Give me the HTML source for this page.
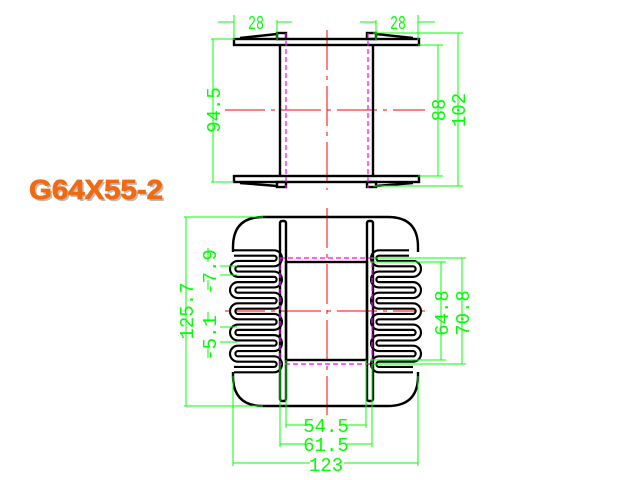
<!DOCTYPE html>
<html><head><meta charset="utf-8"><style>
html,body{margin:0;padding:0;background:#fff;width:640px;height:480px;overflow:hidden}
svg{display:block}
.g{stroke:#00ff00;stroke-width:1;fill:none}
.b{stroke:#000;stroke-width:2.4;fill:none}
.r{stroke:#ff0000;stroke-width:1;fill:none}
.m{stroke:#ff00ff;stroke-width:1.2;fill:none;stroke-dasharray:5 3}
text.d{fill:#00ff00;font-family:"Liberation Mono",monospace;font-size:19px}
</style></head><body>
<svg width="640" height="480" viewBox="0 0 640 480">
<!-- TOP VIEW -->
<path class="r" d="M327 30 V190 M225 110 H425" stroke-dasharray="40 6 4 6"/>
<rect class="b" x="234" y="39" width="185" height="6"/>
<rect class="b" x="234" y="176" width="185" height="6"/>
<line class="b" x1="280" y1="45" x2="280" y2="176"/>
<line class="b" x1="373" y1="45" x2="373" y2="176"/>
<rect class="b" x="277" y="33" width="9" height="6"/>
<rect class="b" x="367" y="33" width="9" height="6"/>
<rect class="b" x="277" y="182" width="9" height="5"/>
<rect class="b" x="367" y="182" width="9" height="5"/>
<path class="b" d="M240 38 L277 34 M376 34 L413 38 M240 183 L277 186 M376 186 L413 183" stroke-width="1.8"/>
<path class="m" d="M286 33 V188 M368 33 V188"/>
<!-- top dims -->
<path class="g" d="M234 15 V40 M277 20 V40 M218 22 H234 M277 22 H292 M376 20 V40 M418 15 V40 M360 22 H376 M418 22 H435"/>
<text class="d" x="248" y="29" textLength="16" lengthAdjust="spacingAndGlyphs">28</text>
<text class="d" x="390" y="29" textLength="16" lengthAdjust="spacingAndGlyphs">28</text>
<path class="g" d="M211 39 H234 M211 182 H234 M213 39 V182"/>
<text class="d" transform="translate(220,110) rotate(-90)" text-anchor="middle">94.5</text>
<path class="g" d="M418 45 H443 M418 176 H443 M438 45 V176 M373 33 H463 M373 186 H463 M458 33 V186"/>
<text class="d" transform="translate(445,110) rotate(-90)" text-anchor="middle">88</text>
<text class="d" transform="translate(465,110) rotate(-90)" text-anchor="middle">102</text>
<!-- label -->
<text x="29" y="199" textLength="134" lengthAdjust="spacingAndGlyphs" style="font-family:'Liberation Sans',sans-serif;font-weight:bold;font-size:28px;fill:#bbb" transform="translate(2,2)">G64X55-2</text>
<text x="29" y="199" textLength="134" lengthAdjust="spacingAndGlyphs" style="font-family:'Liberation Sans',sans-serif;font-weight:bold;font-size:28px;fill:#f26a10;stroke:#f26a10;stroke-width:0.8">G64X55-2</text>
<!-- BOTTOM VIEW -->
<path class="r" d="M327 208 V415 M225 311 H425" stroke-dasharray="40 6 4 6"/>
<path class="b" d="M233 252 V247 Q233 217 263 217 H388 Q418 217 418 247 V252 M233 372 V376 Q233 406 263 406 H388 Q418 406 418 376 V372"/>
<path id="sl" stroke="#000" stroke-width="7.5" fill="none" d=""/>
<path id="sl2" stroke="#fff" stroke-width="3.2" fill="none" d=""/>
<path id="sr" stroke="#000" stroke-width="7.5" fill="none" d=""/>
<path id="sr2" stroke="#fff" stroke-width="3.2" fill="none" d=""/>
<rect class="b" x="280" y="221" width="6" height="180" rx="2" fill="#fff"/>
<rect class="b" x="367" y="221" width="6" height="180" rx="2" fill="#fff"/>
<rect class="b" x="286" y="262" width="81" height="98"/>
<rect class="m" x="280" y="258" width="92" height="106"/>
<!-- bottom dims -->
<path class="g" d="M184 217 H263 M184 406 H263 M186 217 V406"/>
<text class="d" transform="translate(193,311) rotate(-90)" text-anchor="middle">125.7</text>
<path class="g" d="M220 266 H237 M220 275 H237 M208 248 V262 M208 280 V290 M220 327 H237 M220 342 H237 M208 312 V322 M208 346 V358"/>
<text class="d" transform="translate(216,272) rotate(-90)" text-anchor="middle">-7.9</text>
<text class="d" transform="translate(216,338) rotate(-90)" text-anchor="middle">-5.1</text>
<path class="g" d="M370 262 H446 M370 360 H446 M441 262 V360 M372 258 H466 M372 364 H466 M462 258 V364"/>
<text class="d" transform="translate(448,313) rotate(-90)" text-anchor="middle">64.8</text>
<text class="d" transform="translate(469,313) rotate(-90)" text-anchor="middle">70.8</text>
<path class="g" d="M286 360 V428 M366 360 V428 M280 364 V447 M372 364 V447 M233 376 V466 M418 376 V466 M286 425 H308 M345 425 H366 M280 444 H306 M347 444 H372 M233 463 H310 M344 463 H418"/>
<text class="d" x="326" y="432" text-anchor="middle">54.5</text>
<text class="d" x="326" y="451" text-anchor="middle">61.5</text>
<text class="d" x="326" y="471" text-anchor="middle">123</text>
</svg>
<script>
function serp(x0,x1){var n=12,y0=253,s=10.6,r=s/2;
var d="M"+(x0-4)+" "+y0;
for(var k=0;k<n;k++){var y=y0+k*s;var to=(k%2==0)?x1:x0;
d+=" H"+to;
if(k<n-1){var right=(k%2==0);var sweep=right?((x1>x0)?1:0):((x1>x0)?0:1);d+=" A"+r+" "+r+" 0 0 "+sweep+" "+to+" "+(y+s);}}
d+=" H"+(x0-4);
return d;}
var a=serp(238,274),b=serp(413,379);
["sl","sl2"].forEach(function(i){document.getElementById(i).setAttribute("d",a)});
["sr","sr2"].forEach(function(i){document.getElementById(i).setAttribute("d",b)});
</script>
</body></html>
